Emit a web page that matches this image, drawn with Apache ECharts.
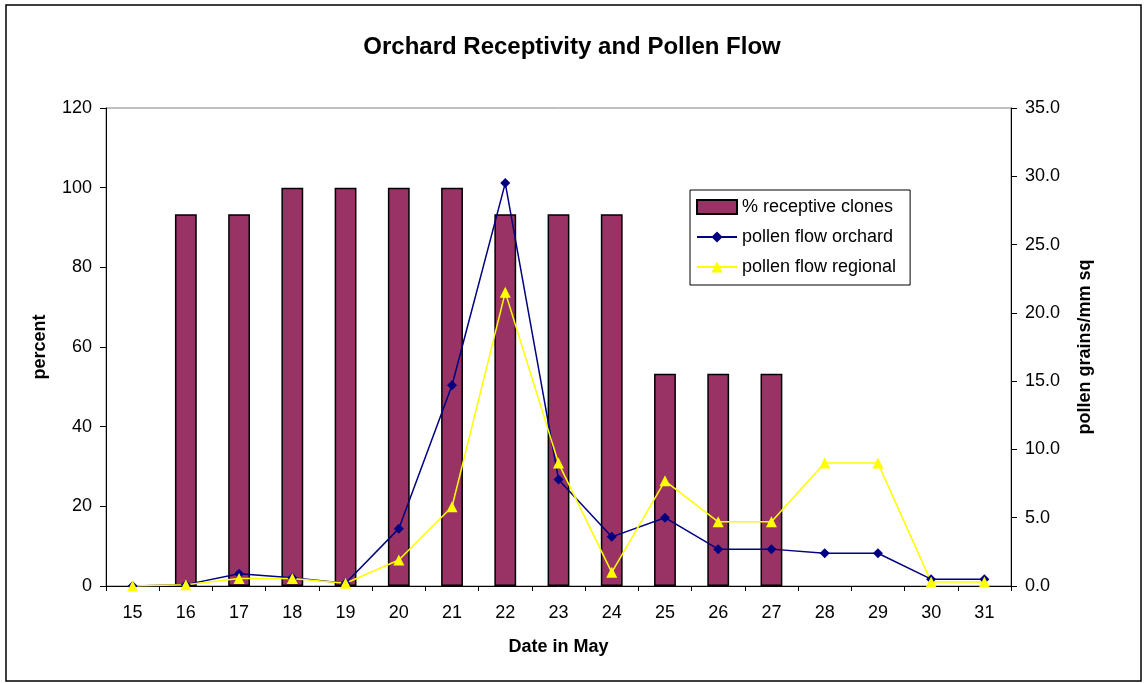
<!DOCTYPE html>
<html><head><meta charset="utf-8">
<script src="https://cdn.jsdelivr.net/npm/echarts@6/dist/echarts.min.js"></script>
<style>html,body{margin:0;padding:0;background:#fff}#c{width:1144px;height:683px}</style>
</head><body><div id="c"></div>
<script>
const categories = ['15','16','17','18','19','20','21','22','23','24','25','26','27','28','29','30','31'];
const receptive = [null, 93.3, 93.3, 100, 100, 100, 100, 93.3, 93.3, 93.3, 53.3, 53.3, 53.3, null, null, null, null];
const orchard = [0, 0.1, 0.9, 0.6, 0.2, 4.2, 14.7, 29.5, 7.8, 3.6, 5.0, 2.7, 2.7, 2.4, 2.4, 0.5, 0.5];
const regional = [0, 0.1, 0.55, 0.55, 0.2, 1.9, 5.8, 21.5, 9.0, 1.0, 7.7, 4.7, 4.7, 9.0, 9.0, 0.3, 0.3];
const leftTicks = [0, 120, 20];
const rightTicks = [0, 35, 5];

const chart = echarts.init(document.getElementById('c'));
const font = 'Liberation Sans, Arial, sans-serif';
chart.setOption({
  backgroundColor: '#fff',
  animation: false,
  textStyle: { fontFamily: font },
  title: {
    text: 'Orchard Receptivity and Pollen Flow',
    left: 'center', top: 30,
    textStyle: { fontFamily: font, fontSize: 24, fontWeight: 'bold', color: '#000' }
  },
  graphic: [{
    type: 'rect', shape: { x: 6, y: 5, width: 1135, height: 676 },
    style: { fill: null, stroke: '#000', lineWidth: 1.5 }, silent: true
  }],
  legend: {
    orient: 'vertical', left: 690, top: 190,
    backgroundColor: '#fff', borderColor: '#000', borderWidth: 1,
    padding: [8, 14, 9, 6], itemGap: 12,
    itemWidth: 40, itemHeight: 14,
    textStyle: { fontFamily: font, fontSize: 18, color: '#000' },
    data: [
      { name: '% receptive clones', icon: 'rect' },
      { name: 'pollen flow orchard' },
      { name: 'pollen flow regional' }
    ]
  },
  grid: { left: 106, right: 133, top: 108, bottom: 97, show: true, borderColor: '#808080', borderWidth: 1 },
  xAxis: {
    type: 'category', data: categories, boundaryGap: true,
    name: 'Date in May', nameLocation: 'middle', nameGap: 52,
    nameTextStyle: { fontFamily: font, fontSize: 18, fontWeight: 'bold', color: '#000' },
    axisLine: { lineStyle: { color: '#000', width: 1 } },
    axisTick: { show: true, alignWithLabel: false, length: 5, lineStyle: { color: '#000' } },
    axisLabel: { fontFamily: font, fontSize: 18, color: '#000', margin: 18 }
  },
  yAxis: [{
    type: 'value', min: leftTicks[0], max: leftTicks[1], interval: leftTicks[2],
    name: 'percent', nameLocation: 'middle', nameGap: 57, nameRotate: 90,
    nameTextStyle: { fontFamily: font, fontSize: 18, fontWeight: 'bold', color: '#000' },
    axisLine: { show: true, lineStyle: { color: '#000' } },
    axisTick: { show: true, length: 6, lineStyle: { color: '#000' } },
    axisLabel: { fontFamily: font, fontSize: 18, color: '#000', margin: 14 },
    splitLine: { show: false }
  }, {
    type: 'value', min: rightTicks[0], max: rightTicks[1], interval: rightTicks[2],
    name: 'pollen grains/mm sq', nameLocation: 'middle', nameGap: 65, nameRotate: 90,
    nameTextStyle: { fontFamily: font, fontSize: 18, fontWeight: 'bold', color: '#000' },
    axisLine: { show: true, lineStyle: { color: '#000' } },
    axisTick: { show: true, length: 6, lineStyle: { color: '#000' } },
    axisLabel: { fontFamily: font, fontSize: 18, color: '#000', margin: 14, formatter: v => v.toFixed(1) },
    splitLine: { show: false }
  }],
  series: [{
    name: '% receptive clones', type: 'bar', data: receptive, yAxisIndex: 0,
    barWidth: '41%',
    itemStyle: { color: '#993366', borderColor: '#000', borderWidth: 1.5 }
  }, {
    name: 'pollen flow orchard', type: 'line', data: orchard, yAxisIndex: 1,
    symbol: 'diamond', symbolSize: 10,
    lineStyle: { color: '#000080', width: 1.5 },
    itemStyle: { color: '#000080' }
  }, {
    name: 'pollen flow regional', type: 'line', data: regional, yAxisIndex: 1,
    symbol: 'triangle', symbolSize: 11,
    lineStyle: { color: '#FFFF00', width: 1.5 },
    itemStyle: { color: '#FFFF00' }
  }]
});
</script></body></html>
